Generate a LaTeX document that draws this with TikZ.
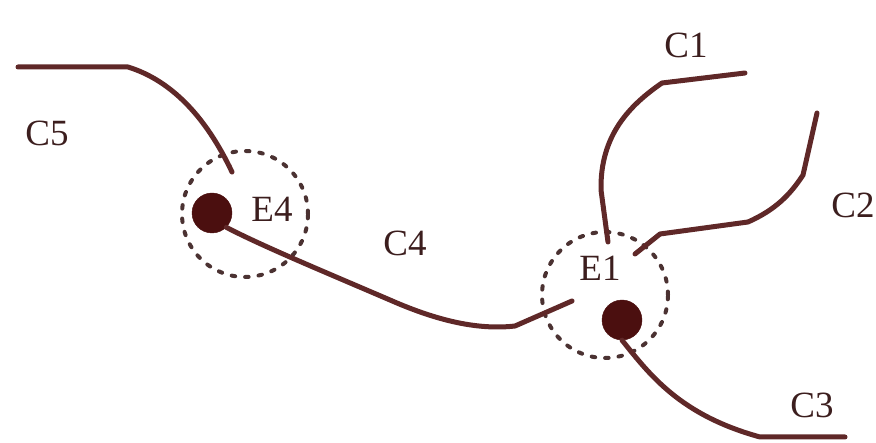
\documentclass[tikz,border=0pt]{standalone}
\usepackage{fontspec}
\setmainfont{Liberation Serif}
\usetikzlibrary{calc}
\definecolor{curve_brown}{RGB}{95,40,40}
\definecolor{dot_brown}{RGB}{75,15,15}
\definecolor{ring_gray}{RGB}{75,50,50}
\definecolor{text_brown}{RGB}{60,30,30}

\begin{document}
\begin{tikzpicture}[x=1pt,y=-1pt,line join=round]
    \tikzstyle{curve}=[draw=curve_brown, line width=5pt, line cap=round]
    \tikzstyle{ring}=[draw=ring_gray, circle, minimum size=126pt, line width=4pt, line cap=round, dash pattern=on 3.5pt off 10pt, fill=none]
    \tikzstyle{blob}=[draw=dot_brown, circle, minimum size=40pt, fill=dot_brown, inner sep=0pt]
    \tikzstyle{lbl}=[text=text_brown, font=\fontsize{37}{37}\selectfont, inner sep=0pt]
    \useasboundingbox (0,0) rectangle (876,443);

    \node[ring] (r4) at (245,214) {};
    \node[ring] (r1) at (605,295) {};
    \node[blob] (e4) at (212,213) {};
    \node[blob] (e1) at (622,320) {};
    \node[lbl] (l4) at (272,209) {E4};
    \node[lbl] (l1) at (600,268) {E1};
    \node[lbl] (c1) at (686,45)  {C1};
    \node[lbl] (c2) at (853,205) {C2};
    \node[lbl] (c3) at (812,405) {C3};
    \node[lbl] (c4) at (405,243) {C4};
    \node[lbl] (c5) at (47,133)  {C5};

    \coordinate (c5a) at (18,67);
    \coordinate (c5b) at (232,172);
    \coordinate (c4b) at (572,301);
    \coordinate (c1a) at (608,242);
    \coordinate (c1b) at (745,73);
    \coordinate (c2a) at (635,254);
    \coordinate (c2b) at (817,113);
    \coordinate (c3b) at (845,437);

    \path[curve]
     (c5a) -- (128,67) .. controls (170,80) and (205,115) .. (c5b)
     ;
    \path[curve]
     (e4.south east) .. controls (260,245) and (320,270) .. (390,300)
       .. controls (440,322) and (480,330) .. (515,326) -- (c4b)
     ;
    \path[curve]
     (c1a) -- (601,190) .. controls (600,135) and (630,105) .. (662,83) -- (c1b)
     ;
    \path[curve]
     (c2a) -- (660,234) -- (748,222) .. controls (775,210) and (790,195) .. (803,175) -- (c2b)
     ;
    \path[curve]
     (e1.south) .. controls (650,375) and (680,415) .. (760,437) -- (c3b)
     ;
  \end{tikzpicture}
\end{document}
